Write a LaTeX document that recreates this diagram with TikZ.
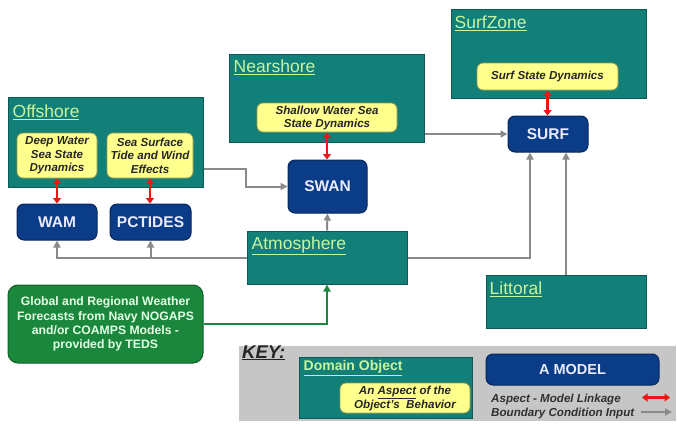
\documentclass[tikz,border=0pt]{standalone}
\usepackage{fontspec}
\setmainfont{Liberation Sans}
\usetikzlibrary{arrows.meta,calc}
\definecolor{tealfill}{HTML}{128078}
\definecolor{tealdraw}{HTML}{0B5A55}
\definecolor{titlecol}{HTML}{C8F5A0}
\definecolor{yelfill}{HTML}{FFFF8E}
\definecolor{yeldraw}{HTML}{9A9A50}
\definecolor{navyfill}{HTML}{0B3C88}
\definecolor{navydraw}{HTML}{06275C}
\definecolor{greenfill}{HTML}{1A873C}
\definecolor{greendraw}{HTML}{106028}
\definecolor{arrgray}{HTML}{8A8A8A}
\definecolor{arrred}{HTML}{EE1515}
\definecolor{keybg}{HTML}{C6C6C6}
\definecolor{keytext}{HTML}{303030}
\tikzset{
  domainbox/.style={draw=tealdraw, line width=1pt, fill=tealfill, rectangle, inner sep=0pt},
  aspectbox/.style={draw=yeldraw, line width=0.8pt, fill=yelfill, rectangle, rounded corners=6pt,
    inner sep=0pt, align=center, font=\fontsize{11.6}{13.5}\selectfont\bfseries\itshape, text=black!85},
  modelbox/.style={draw=navydraw, line width=1pt, fill=navyfill, rectangle, rounded corners=7pt,
    inner sep=0pt, text=white!92!blue, font=\fontsize{15.5}{17}\selectfont\bfseries},
  titletext/.style={anchor=base west, inner sep=0pt, text=titlecol, font=\fontsize{17.5}{19}\selectfont},
  bcarrow/.style={draw=arrgray, line width=2pt, -{Triangle[length=7pt,width=7pt]}},
  linkarrow/.style={draw=arrred, line width=2.2pt, {Triangle[length=5.5pt,width=8pt]}-{Triangle[length=5.5pt,width=8pt]}},
  feedarrow/.style={draw=greenfill, line width=2pt, -{Triangle[length=7pt,width=7pt]}},
  legendtext/.style={anchor=base west, inner sep=0pt, text=keytext, font=\fontsize{11.6}{13}\selectfont\bfseries\itshape}
}
\newcommand{\ttl}[1]{\underline{#1}}
\begin{document}
\begin{tikzpicture}[x=1pt,y=-1pt]
\useasboundingbox[fill=white] (0,0) rectangle (677,423);

% key background
\node[fill=keybg, minimum width=437, minimum height=75, inner sep=0pt] (keybg) at (457.5,383.5) {};

% domain boxes
\node[domainbox, minimum width=195, minimum height=90] (off) at (105.5,142) {};
\node[domainbox, minimum width=195, minimum height=88] (near) at (326.5,98) {};
\node[domainbox, minimum width=195, minimum height=89] (sz) at (548.5,53.5) {};
\node[domainbox, minimum width=160, minimum height=53] (atm) at (327,257.5) {};
\node[domainbox, minimum width=160, minimum height=53] (lit) at (566,301.5) {};
\node[domainbox, minimum width=173, minimum height=61] (dom) at (385.5,387.5) {};

% titles
\node[titletext] (offt) at ([xshift=5pt,yshift=-21pt]off.north west) {\ttl{Offshore}};
\node[titletext] (neart) at ([xshift=5pt,yshift=-19pt]near.north west) {\ttl{Nearshore}};
\node[titletext] (szt) at ([xshift=4pt,yshift=-20pt]sz.north west) {\ttl{SurfZone}};
\node[titletext] (atmt) at ([xshift=5pt,yshift=-19pt]atm.north west) {\ttl{Atmosphere}};
\node[titletext] (litt) at ([xshift=4pt,yshift=-20pt]lit.north west) {\ttl{Littoral}};
\node[titletext, font=\fontsize{14}{16}\selectfont\bfseries] (domt) at ([xshift=5pt,yshift=-14pt]dom.north west) {\ttl{Domain Object}};

% aspect boxes
\node[aspectbox, minimum width=80, minimum height=45] (deep) at (57,155.5) {Deep Water\\Sea State\\Dynamics};
\node[aspectbox, minimum width=86, minimum height=45] (ssurf) at (150,155.5) {Sea Surface\\Tide and Wind\\Effects};
\node[aspectbox, minimum width=140, minimum height=29, font=\fontsize{11.6}{13}\selectfont\bfseries\itshape] (shal) at (327,117.5) {Shallow Water Sea\\State Dynamics};
\node[aspectbox, minimum width=141, minimum height=27] (sstate) at (547.5,76.5) {Surf State Dynamics};
\node[aspectbox, minimum width=130, minimum height=30, font=\fontsize{11.6}{14}\selectfont\bfseries\itshape] (asp) at (405,398) {An \smash{\underline{Aspect}} of the\\Object's\ \ Behavior};

% model boxes
\node[modelbox, minimum width=80, minimum height=36] (wam) at (57,222) {WAM};
\node[modelbox, minimum width=81, minimum height=36] (pct) at (150.5,222) {PCTIDES};
\node[modelbox, minimum width=79, minimum height=53] (swan) at (327.5,186.5) {SWAN};
\node[modelbox, minimum width=80, minimum height=36] (surf) at (548,134) {SURF};
\node[modelbox, minimum width=173, minimum height=31, font=\fontsize{14.5}{16}\selectfont\bfseries] (amod) at (572.5,369.5) {A MODEL};

% green source box
\node[draw=greendraw, line width=1pt, fill=greenfill, rounded corners=10pt, minimum width=195, minimum height=78,
  inner sep=0pt, align=center, text=white!90!green, font=\fontsize{12.2}{14.3}\selectfont\bfseries] (glob) at (105.5,324)
  {Global and Regional Weather\\Forecasts from Navy NOGAPS\\and/or COAMPS Models -\\provided by TEDS};

% key texts
\node[anchor=base west, inner sep=0pt, text=black!85, font=\fontsize{18.5}{20}\selectfont\bfseries\itshape] (keyt) at (242,358) {\underline{KEY:}};
\node[legendtext] (lk1) at (491,402) {Aspect - Model Linkage};
\node[legendtext] (lk2) at (491,416) {Boundary Condition Input};
\coordinate (la1) at (642,397.5);
\coordinate (la2) at (670,397.5);
\coordinate (lb1) at (641,412);
\coordinate (lb2) at (672,412);

% boundary condition arrows
\draw[bcarrow] ([yshift=-27pt]off.east) -- ++(42,0) |- (swan.west);
\draw[bcarrow] (near.east |- surf.west) -- (surf.west);
\draw[bcarrow] (atm.north) -- (swan.south);
\draw[bcarrow] (atm.west) -| (wam.south);
\draw[bcarrow] (pct.south |- atm.west) -- (pct.south);
\draw[bcarrow] (atm.east) -| ([xshift=-18pt]surf.south);
\draw[bcarrow] (lit.north) -- (lit.north |- surf.south);
\draw[feedarrow] (glob.east) -| (atm.south);
\draw[bcarrow] (lb1) -- (lb2);

% aspect-model linkage arrows
\draw[linkarrow] (deep.south) -- (wam.north);
\draw[linkarrow] (ssurf.south) -- (ssurf.south |- pct.north);
\draw[linkarrow] (shal.south) -- (shal.south |- swan.north);
\draw[linkarrow] (sstate.south) -- (sstate.south |- surf.north);
\draw[linkarrow] (la1) -- (la2);
\end{tikzpicture}
\end{document}
